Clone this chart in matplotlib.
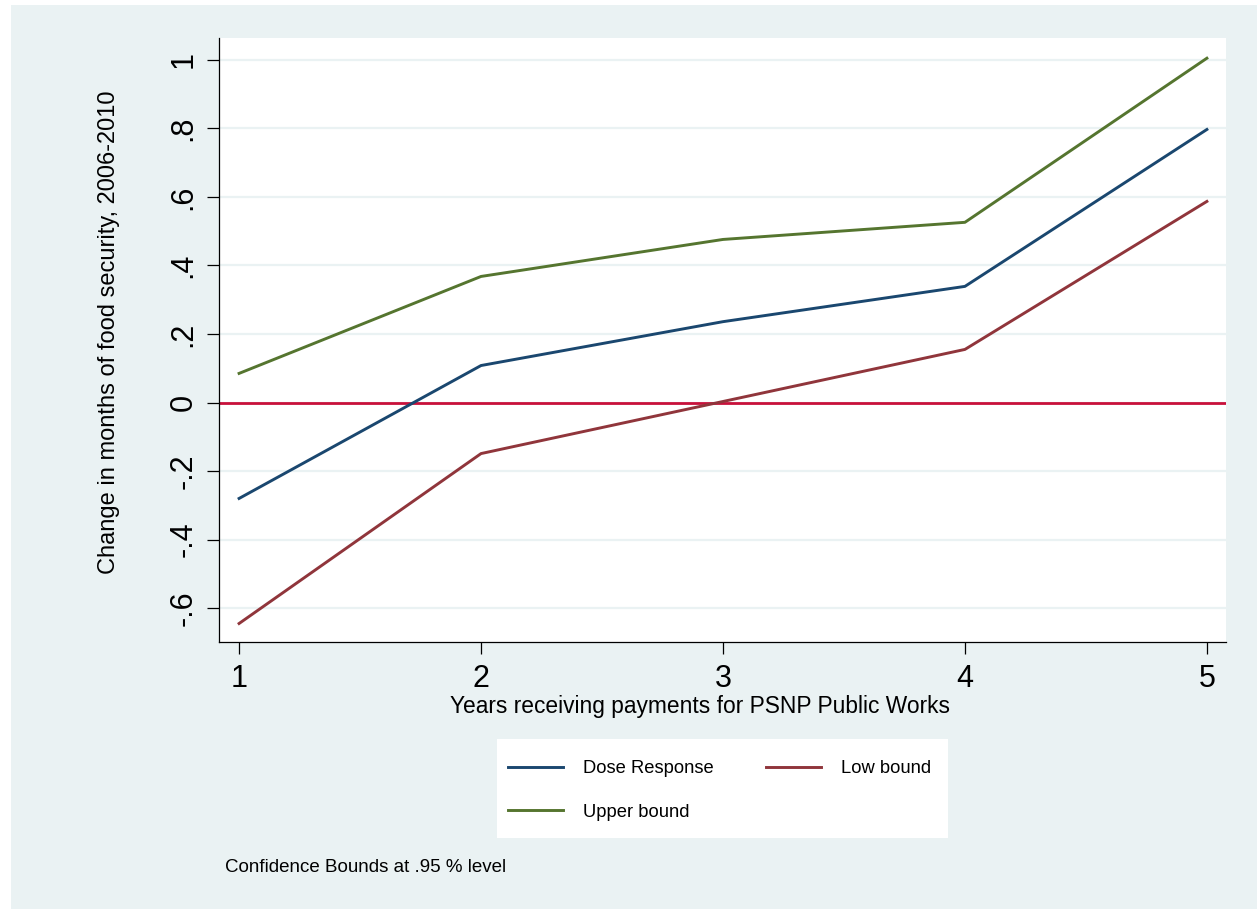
import matplotlib
matplotlib.use("Agg")
import matplotlib.pyplot as plt
from matplotlib.patches import Rectangle

# Data
years = [1, 2, 3, 4, 5]
dose_response = [-0.280, 0.108, 0.236, 0.339, 0.797]
low_bound = [-0.645, -0.149, 0.003, 0.155, 0.587]
upper_bound = [0.085, 0.368, 0.476, 0.526, 1.005]
y_ticks = [-0.6, -0.4, -0.2, 0, 0.2, 0.4, 0.6, 0.8, 1.0]
y_tick_labels = ["-.6", "-.4", "-.2", "0", ".2", ".4", ".6", ".8", "1"]
x_ticks = [1, 2, 3, 4, 5]
x_tick_labels = ["1", "2", "3", "4", "5"]

W, H = 1257, 909
plt.rcParams["font.family"] = ["Liberation Sans", "DejaVu Sans"]

BG = "#EAF2F3"
NAVY = "#1A476F"
MAROON = "#90353B"
GREEN = "#55752F"
ZERO = "#C8103A"

fig = plt.figure(figsize=(W / 100, H / 100), dpi=100, facecolor="white")


def fx(px):
    return px / W


def fy(py):
    return 1 - py / H


# Outer graph region
fig.patches.append(Rectangle((fx(11), 0), 1 - fx(11), 1 - 5 / H,
                             transform=fig.transFigure, facecolor=BG,
                             edgecolor="none", zorder=-2))

left, right, top, bottom = 219, 1226, 38, 642
ax = fig.add_axes([fx(left), fy(bottom), fx(right - left), (bottom - top) / H])
ax.set_facecolor("white")

ax.set_xlim(0.917, 5.079)
ax.set_ylim(-0.699, 1.064)

for v in y_ticks:
    ax.axhline(v, color=BG, lw=1.6, zorder=1)

ax.axhline(0, color=ZERO, lw=2.0, zorder=2)
ax.plot(years, dose_response, color=NAVY, lw=2.1, label="Dose Response", zorder=3)
ax.plot(years, low_bound, color=MAROON, lw=2.1, label="Low bound", zorder=3)
ax.plot(years, upper_bound, color=GREEN, lw=2.1, label="Upper bound", zorder=3)

ax.set_yticks(y_ticks)
ax.set_yticklabels(y_tick_labels, rotation=90, va="center")
ax.set_xticks(x_ticks)
ax.set_xticklabels(x_tick_labels)
ax.tick_params(axis="both", direction="out", length=8.7, width=0.9,
               labelsize=22, color="black")
ax.tick_params(axis="y", pad=6)
ax.tick_params(axis="x", pad=7)

for s in ["top", "right"]:
    ax.spines[s].set_visible(False)
for s in ["left", "bottom"]:
    ax.spines[s].set_linewidth(0.9)
    ax.spines[s].set_color("black")

ax.set_xlabel("Years receiving payments for PSNP Public Works", fontsize=16.4,
              va="center")
ax.xaxis.set_label_coords((700 - left) / (right - left), (bottom - 707) / (bottom - top))
ax.set_ylabel("Change in months of food security, 2006-2010", fontsize=17,
              va="center")
ax.yaxis.set_label_coords((109 - left) / (right - left), (bottom - 332) / (bottom - top))

# Legend box
lx0, ly0, lx1, ly1 = 497, 739, 948, 838
fig.patches.append(Rectangle((fx(lx0), fy(ly1)), fx(lx1 - lx0), (ly1 - ly0) / H,
                             transform=fig.transFigure, facecolor="white",
                             edgecolor="none", zorder=-1))
handles, labels = ax.get_legend_handles_labels()
order = [0, 2, 1]
leg = fig.legend([handles[i] for i in order], [labels[i] for i in order],
                 ncol=2, loc="center", bbox_to_anchor=(fx(719.5), fy(790.5)),
                 frameon=False, fontsize=13.2, handlelength=3.0,
                 handletextpad=1.1, columnspacing=2.85, labelspacing=1.45)

fig.text(fx(225), fy(872), "Confidence Bounds at .95 % level", fontsize=13.5,
         ha="left", va="baseline")

fig.savefig("out.png", dpi=100, facecolor=fig.get_facecolor())
